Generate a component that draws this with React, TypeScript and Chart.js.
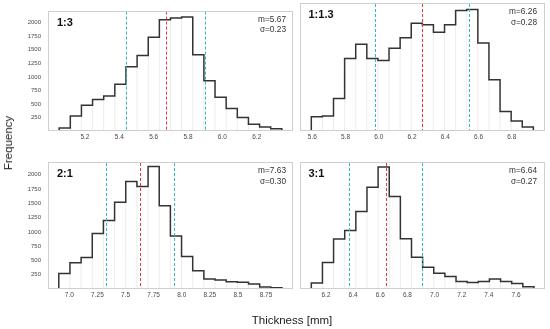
import React, { useEffect, useRef } from "react";
import { Chart, registerables } from "chart.js";

Chart.register(...registerables);

// ---- data ----
const panelLabels = ["1:3", "1:1.3", "2:1", "3:1"];
const means = [5.67, 6.26, 7.63, 6.64];
const sigmas = [0.23, 0.28, 0.3, 0.27];
const binStarts = [5.05, 5.594, 6.906, 6.092];
const binWidths = [0.0648, 0.0668, 0.0993, 0.082];

const freq13 = [55, 276, 478, 581, 645, 863, 1186, 1393, 1733, 2055, 2090, 2107, 1410, 927, 622, 415, 248, 127, 75, 40];
const freq113 = [248, 259, 564, 1261, 1508, 1261, 1226, 1439, 1623, 1871, 1848, 1716, 1848, 2096, 2113, 1531, 892, 340, 173, 69];
const freq21 = [272, 458, 550, 973, 1199, 1518, 1883, 1796, 2144, 1460, 927, 568, 319, 174, 156, 127, 120, 87, 35, 23];
const freq31 = [104, 463, 875, 1025, 1356, 1784, 2138, 1622, 881, 556, 382, 278, 220, 133, 116, 133, 174, 133, 98, 41];
const freqs = [freq13, freq113, freq21, freq31];

const xTickLabels = [
  ["5.2", "5.4", "5.6", "5.8", "6.0", "6.2"],
  ["5.6", "5.8", "6.0", "6.2", "6.4", "6.6", "6.8"],
  ["7.0", "7.25", "7.5", "7.75", "8.0", "8.25", "8.5", "8.75"],
  ["6.2", "6.4", "6.6", "6.8", "7.0", "7.2", "7.4", "7.6"],
];
const xMins = [4.985, 5.523, 6.81, 6.005];
const xMaxs = [6.411, 6.994, 8.99, 7.806];

const yTickLabels = ["250", "500", "750", "1000", "1250", "1500", "1750", "2000"];
const yMax = 2225;

// ---- layout / style ----
const FONT = '"Liberation Sans", Arial, sans-serif';
const RED = "#e23b34";
const CYAN = "#2fb8c8";
const layouts = [
  { left: 0, top: 0, width: 300, height: 150, pad: { left: 0, top: 3, right: 7, bottom: 4 }, showY: true },
  { left: 295, top: 0, width: 255, height: 150, pad: { left: 4.5, top: 3, right: 6, bottom: 4 }, showY: false },
  { left: 0, top: 150, width: 300, height: 179, pad: { left: 0, top: 12, right: 7, bottom: 25 }, showY: true },
  { left: 295, top: 150, width: 255, height: 179, pad: { left: 4.5, top: 12, right: 6, bottom: 25 }, showY: false },
];

const panelDecor = {
  id: "panelDecor",
  afterDatasetsDraw(chart: any, _args: any, opts: any) {
    const { ctx, chartArea: a } = chart;
    const xs = chart.scales.x;
    ctx.save();
    ctx.lineWidth = 1;
    ctx.setLineDash([3, 2]);
    const lines: [number, string][] = [
      [opts.m - opts.s, CYAN],
      [opts.m, RED],
      [opts.m + opts.s, CYAN],
    ];
    lines.forEach(([v, c]) => {
      const px = Math.round(xs.getPixelForValue(v)) + 0.5;
      ctx.strokeStyle = c;
      ctx.beginPath();
      ctx.moveTo(px, a.top + 1);
      ctx.lineTo(px, a.bottom);
      ctx.stroke();
    });
    ctx.restore();
  },
  afterDraw(chart: any, _args: any, opts: any) {
    const { ctx, chartArea: a } = chart;
    ctx.save();
    ctx.strokeStyle = "#cfcfcf";
    ctx.lineWidth = 1;
    ctx.strokeRect(Math.round(a.left) + 0.5, Math.round(a.top) + 0.5, Math.round(a.right - a.left) - 1, Math.round(a.bottom - a.top) - 1);
    ctx.fillStyle = "#111";
    ctx.textBaseline = "middle";
    ctx.textAlign = "left";
    ctx.font = `bold 11px ${FONT}`;
    ctx.fillText(opts.label, a.left + 9, a.top + 12);
    ctx.fillStyle = "#333";
    ctx.textAlign = "right";
    ctx.font = `8.3px ${FONT}`;
    ctx.fillText(`m=${opts.m.toFixed(2)}`, a.right - 7, a.top + 9);
    ctx.fillText(`\u03c3=${opts.s.toFixed(2)}`, a.right - 7, a.top + 19.5);
    ctx.restore();
  },
};

function Panel({ idx }: { idx: number }) {
  const ref = useRef<HTMLCanvasElement | null>(null);
  const L = layouts[idx];
  useEffect(() => {
    if (!ref.current) return;
    const start = binStarts[idx];
    const w = binWidths[idx];
    const f = freqs[idx];
    const edges = f.map((_, i) => start + i * w).concat([start + f.length * w]);
    const stepPts: { x: number; y: number }[] = [{ x: edges[0], y: 0 }];
    f.forEach((v, i) => stepPts.push({ x: edges[i], y: v }));
    stepPts.push({ x: edges[f.length], y: 0 });
    // faint separators at interior bin edges
    const sepPts: { x: number; y: number | null }[] = [];
    for (let i = 1; i < f.length; i++) {
      sepPts.push({ x: edges[i], y: 0 });
      sepPts.push({ x: edges[i], y: Math.min(f[i - 1], f[i]) });
      sepPts.push({ x: edges[i], y: null });
    }
    const m = means[idx];
    const s = sigmas[idx];
    const xVals = xTickLabels[idx].map((t) => parseFloat(t));
    const yVals = yTickLabels.map((t) => parseFloat(t));
    const chart = new Chart(ref.current, {
      type: "line",
      data: {
        datasets: [
          {
            data: stepPts,
            stepped: "before",
            borderColor: "#333333",
            borderWidth: 1.5,
            pointRadius: 0,
            fill: false,
            order: 1,
          },
          {
            data: sepPts,
            borderColor: "#ececec",
            borderWidth: 1,
            pointRadius: 0,
            spanGaps: false,
            fill: false,
            order: 2,
          },
        ] as any,
      },
      options: {
        animation: false,
        responsive: false,
        devicePixelRatio: 1,
        layout: { padding: L.pad },
        plugins: {
          legend: { display: false },
          tooltip: { enabled: false },
          panelDecor: { label: panelLabels[idx], m, s },
        } as any,
        scales: {
          x: {
            type: "linear",
            min: xMins[idx],
            max: xMaxs[idx],
            offset: false,
            grid: { display: false, drawTicks: false },
            border: { display: false },
            afterBuildTicks: (scale: any) => {
              scale.ticks = xVals.map((v) => ({ value: v }));
            },
            afterFit: (scale: any) => {
              scale.height = 15;
            },
            ticks: {
              autoSkip: false,
              maxRotation: 0,
              padding: 2,
              color: "#4a4a4a",
              font: { size: 6.5, family: FONT },
              callback: (_v: any, i: number) => xTickLabels[idx][i],
            },
          },
          y: {
            type: "linear",
            min: 0,
            max: yMax,
            display: L.showY,
            grid: { display: false, drawTicks: false },
            border: { display: false },
            afterBuildTicks: (scale: any) => {
              scale.ticks = yVals.map((v) => ({ value: v }));
            },
            afterFit: (scale: any) => {
              scale.width = L.showY ? 48 : 0;
            },
            ticks: {
              autoSkip: false,
              padding: 7,
              color: "#4a4a4a",
              font: { size: 6, family: FONT },
              callback: (_v: any, i: number) => yTickLabels[i],
            },
          },
        },
      } as any,
      plugins: [panelDecor as any],
    });
    return () => chart.destroy();
  }, [idx]);
  return (
    <canvas
      ref={ref}
      width={L.width}
      height={L.height}
      style={{ position: "absolute", left: L.left, top: L.top, width: L.width, height: L.height }}
    />
  );
}

export default function App() {
  return (
    <div style={{ position: "fixed", left: 0, top: 0, width: 550, height: 329, background: "#fff", overflow: "hidden", fontFamily: FONT }}>
      {[0, 1, 2, 3].map((i) => (
        <Panel key={i} idx={i} />
      ))}
      <div
        style={{
          position: "absolute",
          left: 8,
          top: 143,
          transform: "translate(-50%, -50%) rotate(-90deg)",
          fontSize: 11.5,
          color: "#222",
          whiteSpace: "nowrap",
        }}
      >
        Frequency
      </div>
      <div
        style={{
          position: "absolute",
          left: 292,
          top: 319.5,
          transform: "translate(-50%, -50%)",
          fontSize: 11.5,
          color: "#222",
          whiteSpace: "nowrap",
        }}
      >
        Thickness [mm]
      </div>
    </div>
  );
}
